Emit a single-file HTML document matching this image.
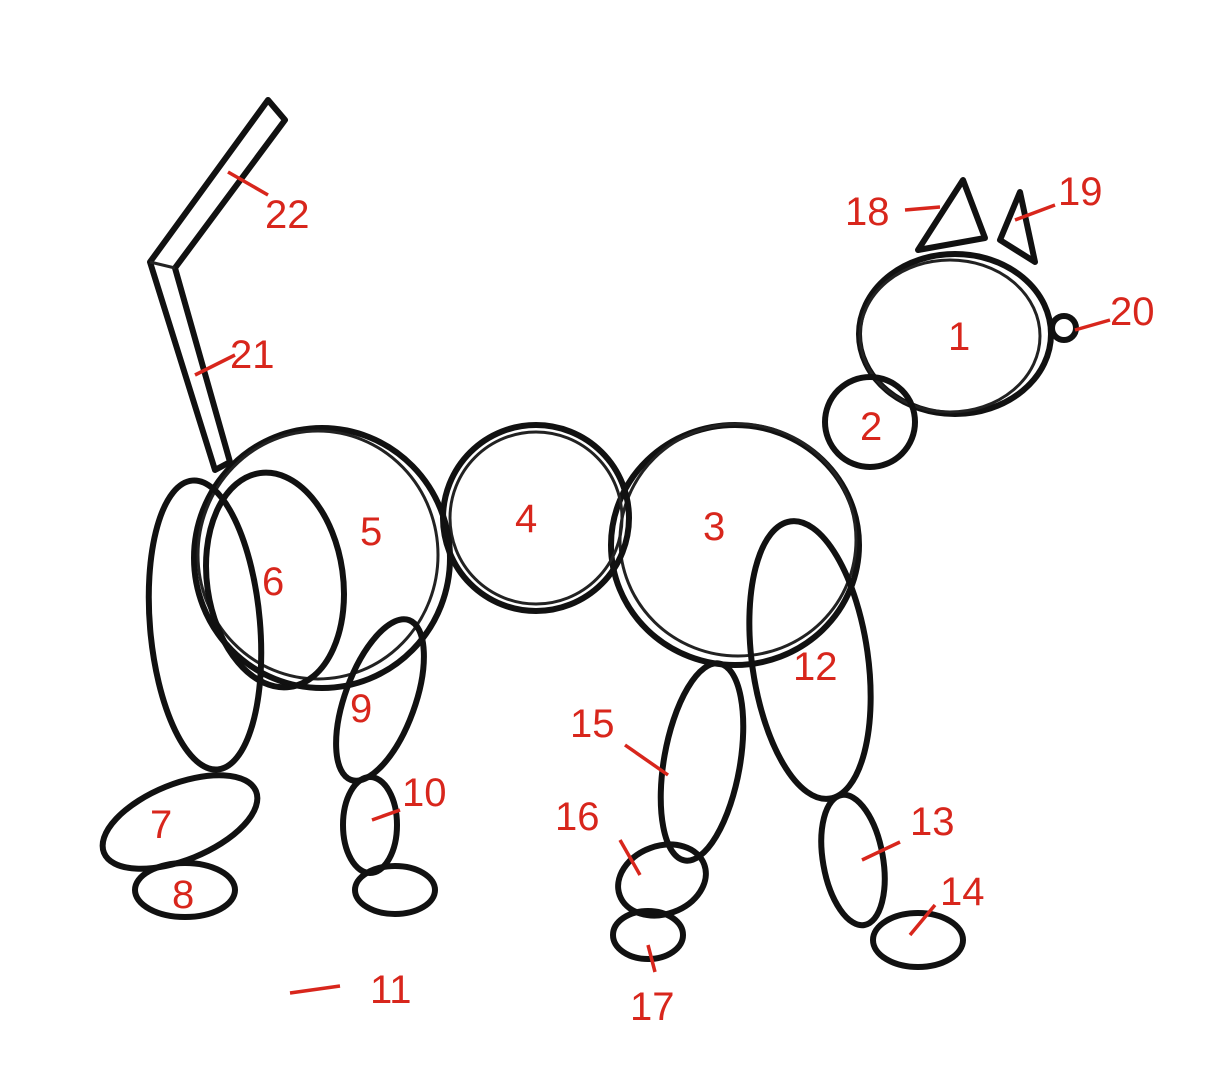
<!DOCTYPE html>
<html><head><meta charset="utf-8"><style>
html,body{margin:0;padding:0;background:#fff;}
svg{display:block;}
.s{fill:none;stroke:#111;stroke-width:6;stroke-linecap:round;stroke-linejoin:round;}
.t{fill:none;stroke:#222;stroke-width:3;}
.r{fill:#d8261c;font-family:"Liberation Sans",sans-serif;font-size:40px;}
.l{stroke:#d8261c;stroke-width:3.5;}
</style></head><body>
<svg width="1225" height="1070" viewBox="0 0 1225 1070">
<g>
<polygon class="s" points="215,470 230,462 175,268 285,120 268,100 150,262"/>
<line class="t" x1="150" y1="262" x2="175" y2="268"/>
</g>
<g>
<ellipse class="s" cx="955" cy="334" rx="96" ry="80"/>
<ellipse class="t" cx="950" cy="336" rx="90" ry="76"/>
<polygon class="s" points="918,250 963,180 985,238"/>
<polygon class="s" points="1000,240 1020,192 1035,262"/>
<circle class="s" cx="1064" cy="328" r="12"/>
<circle class="s" cx="870" cy="422" r="45"/>
<ellipse class="s" cx="735" cy="545" rx="124" ry="120"/>
<ellipse class="t" cx="738" cy="540" rx="118" ry="116"/>
<circle class="s" cx="536" cy="518" r="93"/>
<circle class="t" cx="536" cy="518" r="86"/>
<ellipse class="s" cx="322" cy="558" rx="128" ry="130"/>
<ellipse class="t" cx="318" cy="555" rx="120" ry="124"/>
<ellipse class="s" cx="275" cy="580" rx="68" ry="108" transform="rotate(-8 275 580)"/>
<ellipse class="s" cx="205" cy="625" rx="55" ry="145" transform="rotate(-5 205 625)"/>
<ellipse class="s" cx="180" cy="822" rx="82" ry="38" transform="rotate(-22 180 822)"/>
<ellipse class="s" cx="185" cy="890" rx="50" ry="27"/>
<ellipse class="s" cx="380" cy="700" rx="35" ry="85" transform="rotate(20 380 700)"/>
<ellipse class="s" cx="370" cy="825" rx="27" ry="48"/>
<ellipse class="s" cx="395" cy="890" rx="40" ry="24"/>
<ellipse class="s" cx="810" cy="660" rx="58" ry="140" transform="rotate(-8 810 660)"/>
<ellipse class="s" cx="853" cy="860" rx="30" ry="66" transform="rotate(-10 853 860)"/>
<ellipse class="s" cx="918" cy="940" rx="45" ry="27"/>
<ellipse class="s" cx="702" cy="762" rx="38" ry="100" transform="rotate(10 702 762)"/>
<ellipse class="s" cx="662" cy="880" rx="45" ry="34" transform="rotate(-20 662 880)"/>
<ellipse class="s" cx="648" cy="935" rx="35" ry="24"/>
</g>
<g>
<text class="r" x="948" y="350">1</text>
<text class="r" x="860" y="440">2</text>
<text class="r" x="703" y="540">3</text>
<text class="r" x="515" y="532">4</text>
<text class="r" x="360" y="545">5</text>
<text class="r" x="262" y="595">6</text>
<text class="r" x="150" y="838">7</text>
<text class="r" x="172" y="908">8</text>
<text class="r" x="350" y="722">9</text>
<line class="l" x1="372" y1="820" x2="400" y2="810"/>
<text class="r" x="402" y="806">10</text>
<line class="l" x1="290" y1="993" x2="340" y2="986"/>
<text class="r" x="370" y="1003">11</text>
<text class="r" x="793" y="680">12</text>
<line class="l" x1="862" y1="860" x2="900" y2="842"/>
<text class="r" x="910" y="835">13</text>
<line class="l" x1="910" y1="935" x2="935" y2="905"/>
<text class="r" x="940" y="905">14</text>
<line class="l" x1="625" y1="745" x2="668" y2="775"/>
<text class="r" x="570" y="737">15</text>
<line class="l" x1="620" y1="840" x2="640" y2="875"/>
<text class="r" x="555" y="830">16</text>
<line class="l" x1="648" y1="945" x2="655" y2="972"/>
<text class="r" x="630" y="1020">17</text>
<line class="l" x1="905" y1="210" x2="940" y2="207"/>
<text class="r" x="845" y="225">18</text>
<line class="l" x1="1015" y1="220" x2="1055" y2="205"/>
<text class="r" x="1058" y="205">19</text>
<line class="l" x1="1075" y1="330" x2="1110" y2="320"/>
<text class="r" x="1110" y="325">20</text>
<line class="l" x1="195" y1="375" x2="235" y2="355"/>
<text class="r" x="230" y="368">21</text>
<line class="l" x1="228" y1="172" x2="268" y2="195"/>
<text class="r" x="265" y="228">22</text>
</g>
</svg>
</body></html>
